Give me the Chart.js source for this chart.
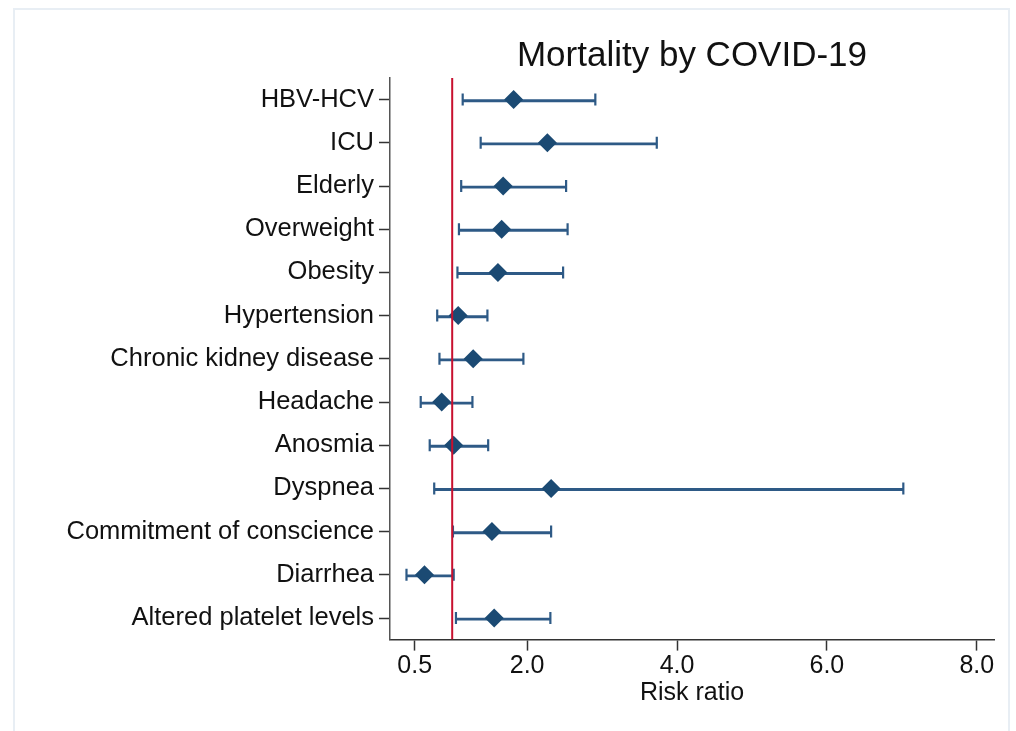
<!DOCTYPE html>
<html>
<head>
<meta charset="utf-8">
<script src="https://cdn.jsdelivr.net/npm/chart.js@4.4.0/dist/chart.umd.min.js"></script>
<style>
  html, body { margin: 0; padding: 0; background: #fff; }
  #frame { position: absolute; left: 13px; top: 8px; width: 997px; height: 740px; border: 2px solid #e8eef4; border-bottom: none; box-sizing: border-box; }
  #chart { position: absolute; left: 0; top: 0; }
</style>
</head>
<body>
<div id="frame"></div>
<canvas id="chart" width="1016" height="731"></canvas>
<script>
// risk ratios
const factors = ['HBV-HCV', 'ICU', 'Elderly', 'Overweight', 'Obesity', 'Hypertension',
  'Chronic kidney disease', 'Headache', 'Anosmia', 'Dyspnea',
  'Commitment of conscience', 'Diarrhea', 'Altered platelet levels'];
const riskRatio = [1.82, 2.27, 1.68, 1.66, 1.61, 1.08, 1.28, 0.86, 1.02, 2.32, 1.53, 0.63, 1.56];
const lowerCI = [1.14, 1.38, 1.12, 1.09, 1.07, 0.80, 0.83, 0.58, 0.70, 0.76, 1.01, 0.39, 1.05];
const upperCI = [2.91, 3.73, 2.52, 2.54, 2.48, 1.47, 1.95, 1.27, 1.48, 7.02, 2.32, 1.02, 2.31];
const xTicks = [0.5, 2, 4, 6, 8];
const refLine = 1;

const navy = '#1b4a73';
const barBlue = '#2e5a86';
const red = '#c8102e';

Chart.defaults.font.family = '"Liberation Sans", Arial, Helvetica, sans-serif';
Chart.defaults.color = '#111';

const ctx = document.querySelector('#chart').getContext('2d');

// caps at both ends of each interval
const caps = [];
factors.forEach((f, i) => {
  caps.push({x: lowerCI[i], y: f});
  caps.push({x: upperCI[i], y: f});
});

new Chart(ctx, {
  type: 'bar',
  data: {
    labels: factors,
    datasets: [
      {
        type: 'line',
        data: [{x: refLine, y: 0}, {x: refLine, y: 1}],
        yAxisID: 'y2',
        borderColor: red,
        borderWidth: 2,
        pointRadius: 0,
        order: 0
      },
      {
        type: 'scatter',
        data: factors.map((f, i) => ({x: riskRatio[i], y: f})),
        pointStyle: 'rectRot',
        pointRadius: 9.5,
        backgroundColor: navy,
        borderColor: navy,
        borderWidth: 0,
        order: 1
      },
      {
        type: 'scatter',
        data: caps,
        pointStyle: 'line',
        rotation: 90,
        pointRadius: 6,
        borderColor: barBlue,
        borderWidth: 2.2,
        order: 2
      },
      {
        type: 'bar',
        data: lowerCI.map((l, i) => [l, upperCI[i]]),
        backgroundColor: barBlue,
        barThickness: 2.2,
        borderSkipped: false,
        order: 3
      }
    ]
  },
  options: {
    indexAxis: 'y',
    responsive: false,
    animation: false,
    events: [],
    layout: { padding: { left: 0, right: 22, top: 0, bottom: 0 } },
    plugins: {
      legend: { display: false },
      tooltip: { enabled: false },
      title: {
        display: true,
        text: 'Mortality by COVID-19',
        fullSize: false,
        color: '#111',
        font: { size: 35, weight: 'normal' },
        padding: { top: 35, bottom: 1 }
      }
    },
    scales: {
      x: {
        type: 'linear',
        min: 0.17,
        max: 8.23,
        afterBuildTicks: (scale) => { scale.ticks = xTicks.map(v => ({value: v})); },
        afterFit: (scale) => { scale.height = 91.4; },
        ticks: {
          callback: (v) => Number(v).toFixed(1),
          font: { size: 25 },
          color: '#111',
          padding: 1,
          maxRotation: 0
        },
        grid: { drawOnChartArea: false, drawTicks: true, tickLength: 11, color: '#333', tickWidth: 1.5 },
        border: { display: true, color: '#333', width: 1.5 },
        title: {
          display: true,
          text: 'Risk ratio',
          color: '#111',
          font: { size: 25 },
          padding: { top: 0, bottom: 23 }
        }
      },
      y: {
        type: 'category',
        offset: true,
        afterFit: (scale) => { scale.width = 390; },
        ticks: { font: { size: 25.5 }, color: '#111', padding: 5 },
        grid: { offset: false, drawOnChartArea: false, drawTicks: true, tickLength: 11, color: '#333', tickWidth: 1.5 },
        border: { display: true, color: '#555', width: 1.5 }
      },
      y2: {
        type: 'linear',
        min: 0,
        max: 1,
        offset: false,
        display: false
      }
    }
  }
});
</script>
</body>
</html>
